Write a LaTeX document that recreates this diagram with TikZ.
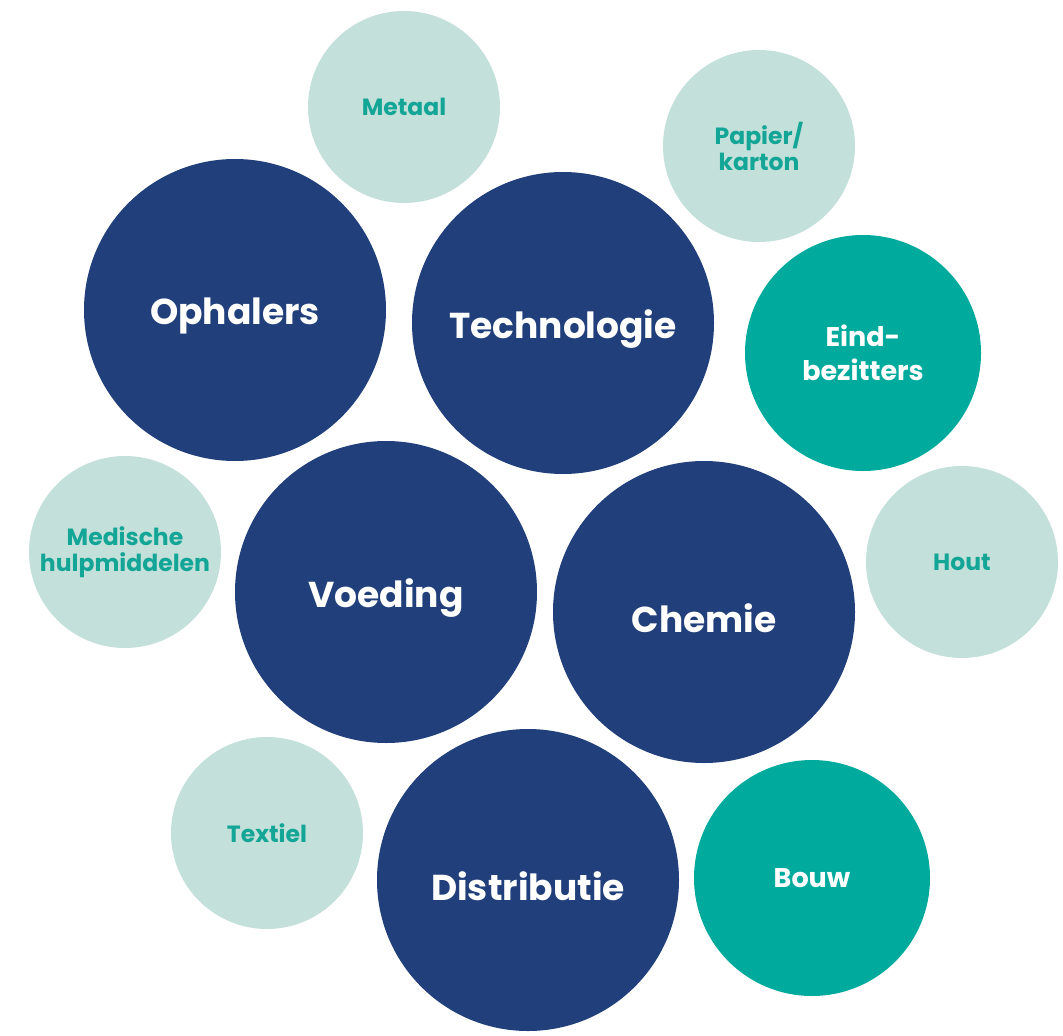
\documentclass[tikz,border=0pt]{standalone}
\usepackage{fontspec}
\setmainfont{Poppins}
\definecolor{navy}{HTML}{213F7A}
\definecolor{tealc}{HTML}{00AB9D}
\definecolor{pale}{HTML}{C4E0DB}
\definecolor{paletext}{HTML}{13A595}
\begin{document}
\begin{tikzpicture}[x=1pt,y=-1pt,
  big/.style={circle,fill=navy,minimum size=302pt,inner sep=0pt},
  bigtext/.style={text=white,font=\fontsize{36}{40}\selectfont\bfseries,align=center,yshift=-6pt},
  mid/.style={circle,fill=tealc,minimum size=236pt,inner sep=0pt,text=white,font=\fontsize{27}{34}\selectfont\bfseries,align=center},
  small/.style={circle,fill=pale,minimum size=192pt,inner sep=0pt,text=paletext,font=\fontsize{23.5}{26}\selectfont\bfseries,align=center}]
\useasboundingbox (0,0) rectangle (1063,1036);
\node[small] (metaal) at (404,107) {Metaal};
\node[small] (papier) at (759,146) {Papier/\\karton};
\node[small] (medische) at (125,552) {Medische\\hulpmiddelen};
\node[small] (hout) at (962,562) {Hout};
\node[small] (textiel) at (267,833) {Textiel};
\node[mid] (eind) at (863,353) {Eind-\\bezitters};
\node[mid] (bouw) at (812,878) {Bouw};
\node[big] (ophalers) at (235,310) {};
\node[big] (techno) at (563,323) {};
\node[big] (voeding) at (386,592) {};
\node[big] (chemie) at (704,612) {};
\node[big] (distr) at (528,880) {};
\node[bigtext] (ophalersL) at (ophalers) {Ophalers};
\node[bigtext] (technoL) at (techno) {Technologie};
\node[bigtext] (voedingL) at (voeding) {Voeding};
\node[bigtext] (chemieL) at (chemie) {Chemie};
\node[bigtext] (distrL) at (distr) {Distributie};
\end{tikzpicture}
\end{document}
